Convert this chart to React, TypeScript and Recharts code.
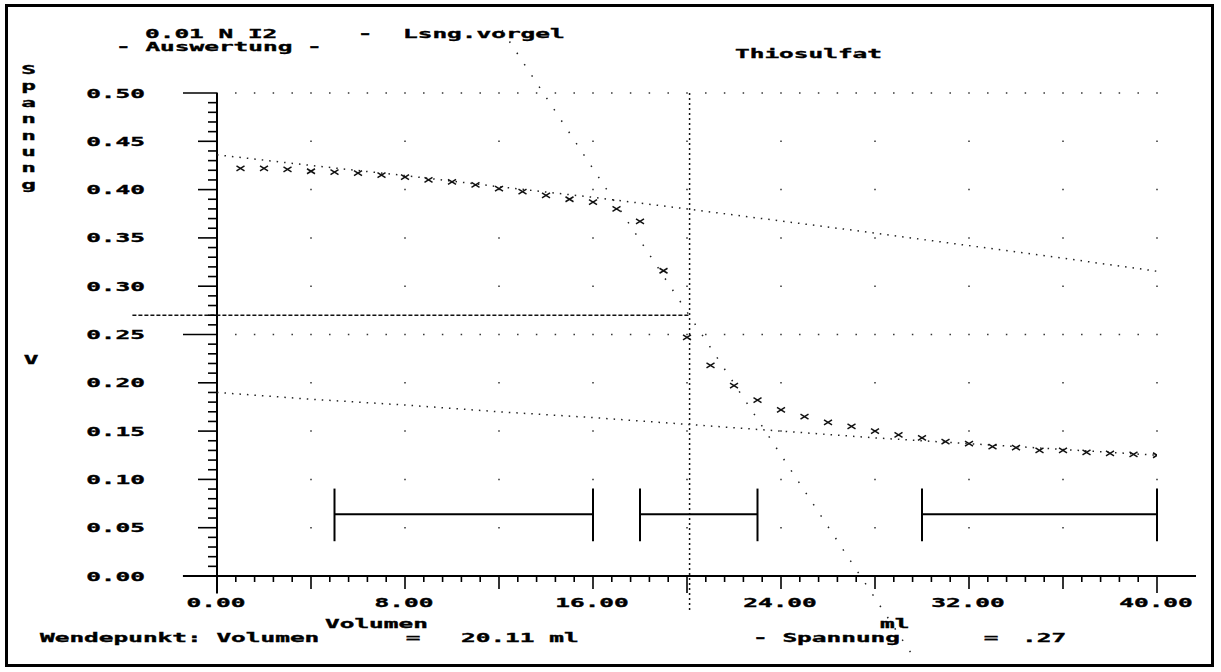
import React from 'react';
import {
  ComposedChart,
  XAxis,
  YAxis,
  Scatter,
  Line,
  ReferenceLine,
} from 'recharts';

// Messwerte: Volumen (ml) / Spannung (V)
const volumen = [
  1, 2, 3, 4, 5, 6, 7, 8, 9, 10, 11, 12, 13, 14, 15, 16, 17, 18, 19, 20,
  21, 22, 23, 24, 25, 26, 27, 28, 29, 30, 31, 32, 33, 34, 35, 36, 37, 38, 39, 40,
];
const spannung = [
  0.422, 0.422, 0.421, 0.419, 0.418, 0.417, 0.415, 0.413, 0.410, 0.408,
  0.405, 0.401, 0.398, 0.394, 0.390, 0.387, 0.380, 0.367, 0.316, 0.247,
  0.218, 0.197, 0.182, 0.172, 0.165, 0.159, 0.155, 0.150, 0.146, 0.143,
  0.139, 0.137, 0.134, 0.133, 0.130, 0.130, 0.128, 0.127, 0.126, 0.125,
];

// Ausgleichsgeraden (oben / unten)
const fitVolumen = [0, 4, 8, 12, 16, 20, 24, 28, 32, 36, 40];
const fitOben = [0.436, 0.425, 0.4145, 0.403, 0.392, 0.380, 0.3675, 0.355, 0.342, 0.329, 0.3155];
const fitUnten = [0.190, 0.183, 0.177, 0.170, 0.164, 0.157, 0.150, 0.143, 0.137, 0.131, 0.125];

// Wendetangente
const tangenteX = [12.13, 29.73];
const tangenteY = [0.565, -0.087];

// Wendepunkt
const wendeVolumen = 20.11;
const wendeSpannung = 0.27;

// Auswertebereiche
const bereichVon = [5, 18, 30];
const bereichBis = [16, 23, 40];
const bereichY = 0.064;
const bereichUnten = 0.036;
const bereichOben = 0.0905;

// Achsen
const xTicks = Array.from({ length: 51 }, (_, i) => Math.round(i * 8) / 10);
const yTicks = Array.from({ length: 51 }, (_, i) => i / 100);
const gridRows = [0.05, 0.1, 0.15, 0.2, 0.3, 0.35, 0.4, 0.45];
const denseRows = [0.25, 0.5];
const spannungLetters = ['S', 'p', 'a', 'n', 'n', 'u', 'n', 'g'];

const W = 1221;
const H = 672;
const ADV = 14.7;

const messpunkte = volumen.map((x, i) => ({ x, y: spannung[i] }));
const obenData = fitVolumen.map((x, i) => ({ x, y: fitOben[i] }));
const untenData = fitVolumen.map((x, i) => ({ x, y: fitUnten[i] }));

const DosText: React.FC<{ x: number; y: number; text: string; anchor?: 'start' | 'middle' | 'end' }> = ({ x, y, text, anchor = 'start' }) => (
  <text
    x={x}
    y={y}
    textAnchor={anchor}
    textLength={text.length * ADV}
    lengthAdjust="spacingAndGlyphs"
    fontFamily="'DejaVu Sans Mono', monospace"
    fontWeight="bold"
    fontSize={12.5}
    fill="#000"
    stroke="#000"
    strokeWidth={0.35}
    style={{ whiteSpace: 'pre' }}
  >
    {text}
  </text>
);

// eslint-disable-next-line @typescript-eslint/no-explicit-any
const XTick = (props: any) => {
  const { x, y, payload } = props;
  const t = Math.round(payload.value * 10);
  const long = t % 200 === 0;
  const major = t % 40 === 0;
  const len = long ? 17 : major ? 13 : 6;
  return (
    <g>
      <line x1={x} x2={x} y1={y} y2={y + len} stroke="#000" strokeWidth={1.6} />
      {t % 80 === 0 && <DosText x={x - 1} y={607} text={payload.value.toFixed(2)} anchor="middle" />}
    </g>
  );
};

// eslint-disable-next-line @typescript-eslint/no-explicit-any
const YTick = (props: any) => {
  const { x, y, payload } = props;
  const t = Math.round(payload.value * 100);
  const long = t % 25 === 0;
  const major = t % 5 === 0;
  const len = long ? 34 : major ? 19 : 9;
  return (
    <g>
      <line x1={x - len} x2={x} y1={y} y2={y} stroke="#000" strokeWidth={1.6} />
      {major && <DosText x={145} y={y + 4.5} text={payload.value.toFixed(2)} anchor="end" />}
    </g>
  );
};

// eslint-disable-next-line @typescript-eslint/no-explicit-any
const Kreuz = (props: any) => {
  const { cx, cy } = props;
  if (cx == null || cy == null) return null;
  return (
    <g stroke="#111" strokeWidth={1.5}>
      <line x1={cx - 4} y1={cy - 2.5} x2={cx + 4} y2={cy + 2.5} />
      <line x1={cx - 4} y1={cy + 2.5} x2={cx + 4} y2={cy - 2.5} />
    </g>
  );
};

export default function App() {
  return (
    <div style={{ position: 'relative', width: W, height: H, background: '#fff' }}>
      <style>{'body{margin:0}'}</style>
      <ComposedChart
        width={W}
        height={H}
        margin={{ top: 93, right: 64, bottom: 66, left: 117 }}
      >
        <XAxis
          type="number"
          dataKey="x"
          domain={[0, 40]}
          allowDataOverflow
          ticks={xTicks}
          interval={0}
          axisLine={false}
          tickLine={false}
          tickSize={0}
          tickMargin={0}
          height={30}
          tick={<XTick />}
        />
        <YAxis
          type="number"
          dataKey="y"
          domain={[0, 0.5]}
          allowDataOverflow
          ticks={yTicks}
          interval={0}
          axisLine={false}
          tickLine={false}
          tickSize={0}
          tickMargin={0}
          width={100}
          tick={<YTick />}
        />

        {gridRows.map((r) => (
          <ReferenceLine
            key={'g' + r}
            segment={[{ x: 0, y: r }, { x: 40.1, y: r }]}
            stroke="#333"
            strokeWidth={1.5}
            strokeDasharray="1.5 92.5"
            strokeDashoffset={0.75}
            ifOverflow="visible"
          />
        ))}
        {denseRows.map((r) => (
          <ReferenceLine
            key={'d' + r}
            segment={[{ x: 0, y: r }, { x: 40.1, y: r }]}
            stroke="#333"
            strokeWidth={1.5}
            strokeDasharray="1.5 17.3"
            strokeDashoffset={0.75}
            ifOverflow="visible"
          />
        ))}

        {/* Achsenlinien */}
        <ReferenceLine segment={[{ x: -1.45, y: 0 }, { x: 41.66, y: 0 }]} stroke="#000" strokeWidth={2} ifOverflow="visible" />
        <ReferenceLine segment={[{ x: 0, y: 0.5 }, { x: 0, y: -0.018 }]} stroke="#000" strokeWidth={2} ifOverflow="visible" />

        {/* Wendepunkt */}
        <ReferenceLine
          segment={[{ x: wendeVolumen, y: 0.5 }, { x: wendeVolumen, y: -0.037 }]}
          stroke="#111"
          strokeWidth={1.5}
          strokeDasharray="2 3"
          ifOverflow="visible"
        />
        <ReferenceLine
          segment={[{ x: -3.6, y: wendeSpannung }, { x: wendeVolumen, y: wendeSpannung }]}
          stroke="#111"
          strokeWidth={1.5}
          strokeDasharray="4 2"
          ifOverflow="visible"
        />
        <ReferenceLine
          segment={[{ x: tangenteX[0], y: tangenteY[0] }, { x: tangenteX[1], y: tangenteY[1] }]}
          stroke="#222"
          strokeWidth={1.5}
          strokeDasharray="1.5 12"
          ifOverflow="visible"
        />

        {/* Bereiche */}
        {bereichVon.map((v, i) => (
          <ReferenceLine
            key={'b' + i}
            segment={[{ x: v, y: bereichY }, { x: bereichBis[i], y: bereichY }]}
            stroke="#000"
            strokeWidth={2}
            ifOverflow="visible"
          />
        ))}
        {[...bereichVon, ...bereichBis].map((v, i) => (
          <ReferenceLine
            key={'e' + i}
            segment={[{ x: v, y: bereichUnten }, { x: v, y: bereichOben }]}
            stroke="#000"
            strokeWidth={2}
            ifOverflow="visible"
          />
        ))}

        <Line
          data={obenData}
          dataKey="y"
          type="linear"
          stroke="#222"
          strokeWidth={1.5}
          strokeDasharray="1.5 6"
          dot={false}
          activeDot={false}
          isAnimationActive={false}
        />
        <Line
          data={untenData}
          dataKey="y"
          type="linear"
          stroke="#222"
          strokeWidth={1.5}
          strokeDasharray="1.5 6"
          dot={false}
          activeDot={false}
          isAnimationActive={false}
        />
        <Scatter data={messpunkte} dataKey="y" shape={Kreuz} isAnimationActive={false} />
      </ComposedChart>

      <svg
        width={W}
        height={H}
        style={{ position: 'absolute', left: 0, top: 0, pointerEvents: 'none' }}
      >
        <rect x={6.5} y={5.5} width={1206} height={660} fill="none" stroke="#000" strokeWidth={3} />
        <DosText x={145} y={38} text="0.01 N I2" />
        <DosText x={365} y={38} text="-" anchor="middle" />
        <DosText x={403} y={38} text="Lsng.vorgel" />
        <DosText x={116} y={51} text="- Auswertung -" />
        <DosText x={735} y={58} text="Thiosulfat" />
        {spannungLetters.map((c, i) => (
          <DosText key={i} x={28.5} y={74 + i * 16.4} text={c} anchor="middle" />
        ))}
        <DosText x={31} y={364} text="V" anchor="middle" />
        <DosText x={325} y={628} text="Volumen" />
        <DosText x={880} y={628} text="ml" />
        <DosText x={40} y={642} text="Wendepunkt: Volumen" />
        <DosText x={413} y={642} text="=" anchor="middle" />
        <DosText x={461} y={642} text="20.11 ml" />
        <DosText x={753} y={642} text="- Spannung" />
        <DosText x={991} y={642} text="=" anchor="middle" />
        <DosText x={1022} y={642} text=".27" />
      </svg>
    </div>
  );
}
